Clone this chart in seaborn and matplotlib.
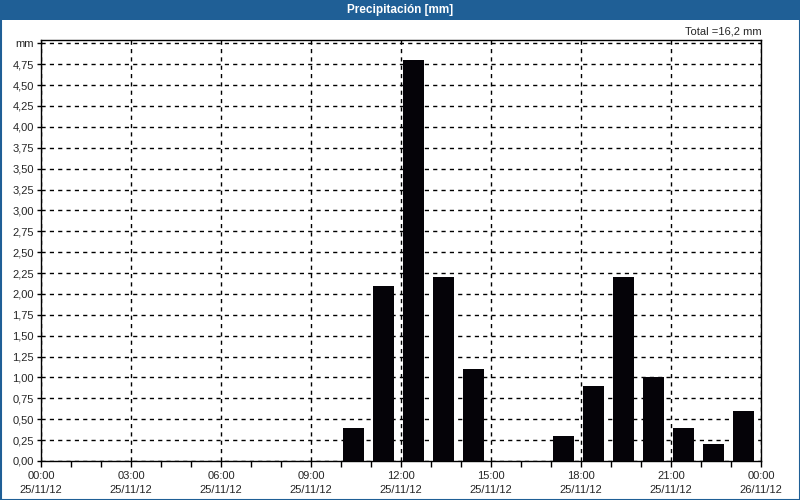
import matplotlib
matplotlib.use("Agg")
import matplotlib.pyplot as plt
import seaborn as sns
import pandas as pd
import numpy as np
from matplotlib.patches import Rectangle
from matplotlib.ticker import FixedLocator

hours = list(range(24))
precip = [0, 0, 0, 0, 0, 0, 0, 0, 0, 0, 0.4, 2.1, 4.8, 2.2, 1.1, 0, 0, 0.3, 0.9, 2.2, 1.0, 0.4, 0.2, 0.6]
xtick_labels = ["00:00\n25/11/12", "03:00\n25/11/12", "06:00\n25/11/12", "09:00\n25/11/12",
                "12:00\n25/11/12", "15:00\n25/11/12", "18:00\n25/11/12", "21:00\n25/11/12",
                "00:00\n26/11/12"]
title = "Precipitación [mm]"
total_text = "Total =16,2 mm"

sns.set_style("white")
plt.rcParams['font.family'] = ['Liberation Sans', 'DejaVu Sans']

fig = plt.figure(figsize=(8, 5), dpi=100)
fig.patch.set_facecolor("white")
blue = "#1f5f96"
# title bar and border
fig.patches.append(Rectangle((0, 1 - 20/500), 1, 20/500, transform=fig.transFigure,
                             facecolor=blue, edgecolor="none", zorder=0))
fig.patches.append(Rectangle((0.5/800, 0.5/500), 1 - 1/800, 1 - 1/500, transform=fig.transFigure,
                             facecolor="none", edgecolor=blue, linewidth=1.5, zorder=0))
fig.text(0.5, 1 - 10/500, title, color="white", fontsize=8.5, fontweight="bold",
         ha="center", va="center")

ax = fig.add_axes([41/800, 39/500, 720/800, 421/500])
df = pd.DataFrame({"pos": [h + 0.41 for h in hours], "val": precip})
sns.barplot(data=df, x="pos", y="val", native_scale=True, width=0.68,
            color="#050308", saturation=1, linewidth=0, ax=ax, zorder=3)

ax.set_xlim(0, 24)
ax.set_ylim(0, 5.04)
ax.xaxis.set_major_locator(FixedLocator(np.arange(0, 25, 3)))
ax.xaxis.set_minor_locator(FixedLocator(np.arange(0, 25, 1)))
ax.set_xticklabels(xtick_labels, fontsize=8, linespacing=1.5)
yt = np.arange(0, 5.01, 0.25)
ax.yaxis.set_major_locator(FixedLocator(yt))
ylabels = [f"{v:.2f}".replace(".", ",") for v in yt]
ylabels[-1] = "mm"
ax.set_yticklabels(ylabels, fontsize=8)
ax.set_xlabel("")
ax.set_ylabel("")
ax.tick_params(axis="x", which="both", length=4, width=1, direction="out", color="black",
               pad=3, bottom=True, top=False)
ax.tick_params(axis="y", which="both", length=3, width=1, direction="out", color="black",
               pad=2, left=True, right=False)
ax.grid(True, which="major", axis="both", color="black", linestyle=(0, (3, 3)), linewidth=1, zorder=1)
ax.set_axisbelow(True)
for s in ax.spines.values():
    s.set_color("black")
    s.set_linewidth(1)
    s.set_visible(True)
fig.text(762/800, 1 - 32/500, total_text, fontsize=8, ha="right", va="center")

fig.savefig("out.png", dpi=100)
